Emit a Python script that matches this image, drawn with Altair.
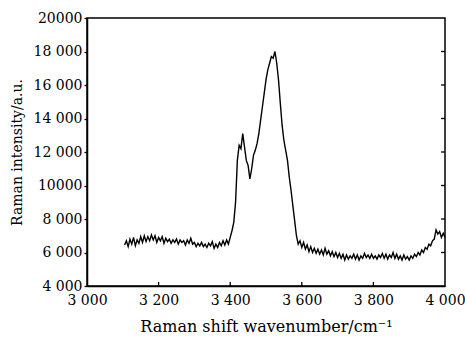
import altair as alt
import pandas as pd

# Raman shift (cm^-1) and intensity (a.u.)
wavenumber = list(range(3105, 4001, 5))
intensity = [
    # 3105 - 3400
    6450, 6700, 6350, 6800, 6500, 6900, 6400, 6750, 6550, 6950,
    6600, 7000, 6650, 6950, 6700, 7050, 6750, 7000, 6600, 6900,
    6700, 6950, 6550, 6850, 6650, 6800, 6550, 6750, 6600, 6800,
    6500, 6750, 6600, 6700, 6450, 6750, 6550, 6850, 6500, 6600,
    6350, 6550, 6400, 6600, 6350, 6500, 6300, 6550, 6400, 6650,
    6250, 6500, 6300, 6600, 6400, 6700, 6450, 6750, 6500, 6900,
    # 3405 - 3590
    7300, 7800, 9000, 11500, 12400, 12200, 13100, 12300, 11500, 11200,
    10400, 11000, 11800, 12100, 12500, 13100, 13900, 14700, 15500, 16300,
    16900, 17300, 17700, 17600, 18000, 17300, 16300, 14900, 13600, 12700,
    12100, 11500, 10500, 9700, 8800, 7900, 7000, 6500,
    # 3595 - 4000
    6700, 6300, 6600, 6200, 6450, 6050, 6350, 6000, 6250, 5950,
    6200, 5900, 6150, 5850, 6250, 5900, 6100, 5800, 6050, 5750,
    6000, 5700, 5950, 5650, 5900, 5550, 5850, 5600, 5800, 5650,
    5900, 5600, 5850, 5550, 5800, 5650, 5950, 5700, 5850, 5650,
    5900, 5650, 5800, 5600, 5850, 5700, 5950, 5650, 5900, 5600,
    5850, 5700, 6000, 5650, 5900, 5600, 5800, 5550, 5850, 5600,
    5750, 5550, 5800, 5650, 5900, 5750, 6000, 5850, 6150, 6000,
    6300, 6200, 6500, 6400, 6700, 6800, 7350, 7100, 7250, 6900,
    7150, 6900,
]

x_ticks = [3000, 3200, 3400, 3600, 3800, 4000]
x_tick_labels = ["3 000", "3 200", "3 400", "3 600", "3 800", "4 000"]
y_ticks = [4000, 6000, 8000, 10000, 12000, 14000, 16000, 18000, 20000]
y_tick_labels = ["4 000", "6 000", "8 000", "10000", "12 000", "14 000",
                 "16 000", "18 000", "20000"]

df = pd.DataFrame({"w": wavenumber, "i": intensity})

W, H = 358, 268
FONT = "DejaVu Serif"

def label_expr(ticks, labels):
    parts = [f"datum.value == {t} ? '{l}'" for t, l in zip(ticks, labels)]
    return " : ".join(parts) + " : ''"

xs = alt.Scale(domain=[3000, 4000], nice=False)
ys = alt.Scale(domain=[4000, 20000], nice=False)

x_axis = alt.Axis(
    values=x_ticks, labelExpr=label_expr(x_ticks, x_tick_labels),
    ticks=False, grid=False, labelPadding=7,
    title="Raman shift wavenumber/cm\u207b\u00b9", titlePadding=11,
    titleFontSize=16)
y_axis = alt.Axis(
    values=y_ticks, labelExpr=label_expr(y_ticks, y_tick_labels),
    tickSize=3, grid=False, labelPadding=2,
    title="Raman intensity/a.u.", titlePadding=9, titleFontSize=14)

line = alt.Chart(df).mark_line(color="black", strokeWidth=1.4).encode(
    x=alt.X("w:Q", scale=xs, axis=x_axis),
    y=alt.Y("i:Q", scale=ys, axis=y_axis),
)

xt = pd.DataFrame({"w": x_ticks[1:-1]})
x_inner = alt.Chart(xt).mark_rule(color="black", strokeWidth=1.3).encode(
    x=alt.X("w:Q", scale=xs, axis=x_axis), y=alt.value(H - 4), y2=alt.value(H))

yt = pd.DataFrame({"i": y_ticks[1:-1]})
y_inner = alt.Chart(yt).mark_rule(color="black", strokeWidth=1.3).encode(
    y=alt.Y("i:Q", scale=ys, axis=y_axis), x=alt.value(W - 4), x2=alt.value(W))

chart = alt.layer(line, x_inner, y_inner).properties(
    width=W, height=H,
    autosize=alt.AutoSizeParams(type="none"),
    padding={"left": 87, "top": 18, "right": 20, "bottom": 53},
    background="white",
).configure_view(
    stroke="black", strokeWidth=1.5
).configure_axis(
    labelFont=FONT, labelFontSize=14, labelColor="black",
    titleFont=FONT, titleFontWeight="normal",
    titleColor="black", domainColor="black", domainWidth=1.5,
    tickColor="black", tickWidth=1.3, labelFlush=False, labelOverlap=False,
)

chart.save("out.html", embed_options={"renderer": "svg", "actions": False})
